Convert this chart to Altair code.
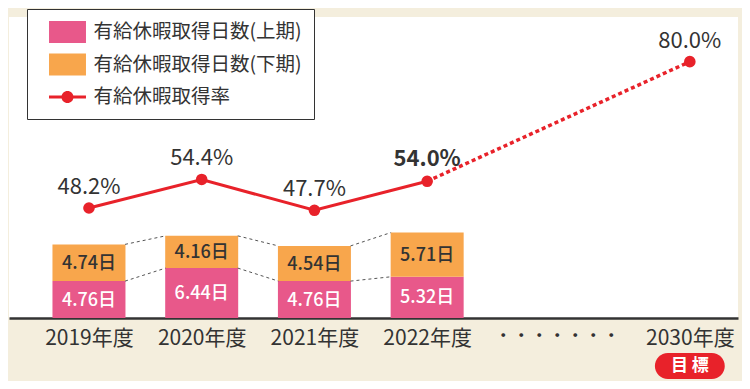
import altair as alt
import pandas as pd

# ---------------- data ----------------
years = ["2019年度", "2020年度", "2021年度", "2022年度", "2030年度"]
days_first = [4.76, 6.44, 4.76, 5.32]     # 上期
days_second = [4.74, 4.16, 4.54, 5.71]    # 下期
rate = [48.2, 54.4, 47.7, 54.0, 80.0]     # 取得率 (%)
series_names = ["有給休暇取得日数(上期)", "有給休暇取得日数(下期)", "有給休暇取得率"]
gap_label = "・・・・・・・"
target_label = "目 標"

# ---------------- layout / style ----------------
slot = [0, 1, 2, 3, 5.33]          # x slot of each year on the category axis
gap_slot = 4.15
X_DOMAIN = [-0.665, 5.713]
DAY_DOMAIN = [0, 38.84]
RATE_DOMAIN = [24.3, 89.7]
HALF = 0.32                          # half bar width in slot units

PINK = "#e8588a"
ORANGE = "#f8a64c"
RED = "#e8222a"
BEIGE = "#f4eedd"
TEXT = "#333333"
NUM_FONT = "Noto Sans CJK JP"
JP_FONT = "Noto Sans CJK JP"

# ---------------- tables ----------------
bar_rows = []
lbl_rows = []
for i in range(4):
    bar_rows.append({"pos": slot[i], "series": series_names[0], "value": days_first[i], "ord": 0})
    bar_rows.append({"pos": slot[i], "series": series_names[1], "value": days_second[i], "ord": 1})
    lbl_rows.append({"pos": slot[i], "y": days_first[i] / 2, "text": f"{days_first[i]:.2f}日", "kind": "first"})
    lbl_rows.append({"pos": slot[i], "y": days_first[i] + days_second[i] / 2,
                     "text": f"{days_second[i]:.2f}日", "kind": "second"})
bars_df = pd.DataFrame(bar_rows)
lbl_df = pd.DataFrame(lbl_rows)

conn_rows = []
tops_first = days_first
tops_total = [a + b for a, b in zip(days_first, days_second)]
for level in (tops_first, tops_total):
    for i in range(3):
        conn_rows.append({"x1": slot[i] + HALF, "x2": slot[i + 1] - HALF,
                          "y1": level[i], "y2": level[i + 1]})
conn_df = pd.DataFrame(conn_rows)

rate_df = pd.DataFrame({
    "pos": slot,
    "rate": rate,
    "series": series_names[2],
    "label": [f"{r:.1f}%" for r in rate],
    "bold": [False, False, False, True, False],
})
solid_df = rate_df.iloc[:4]
dotted_df = rate_df.iloc[3:]
badge_df = pd.DataFrame({"pos": [slot[4]], "text": [target_label]})

# ---------------- scales / axes ----------------
cases = list(zip(slot, years)) + [(gap_slot, gap_label)]
label_expr = "".join(f"datum.value == {p} ? '{n}' : " for p, n in cases) + "''"
x_axis = alt.Axis(values=[p for p, _ in cases], labelExpr=label_expr, domainColor=TEXT,
                  domainWidth=2.5, ticks=False, grid=False, labelFont=JP_FONT,
                  labelFontSize={"condition": {"test": f"datum.value == {gap_slot}", "value": 18},
                                 "value": 21},
                  labelColor=TEXT, labelPadding=9,
                  labelFlush=False, labelOverlap=False)
xs = alt.Scale(domain=X_DOMAIN, nice=False, zero=False)
ys_days = alt.Scale(domain=DAY_DOMAIN, nice=False, zero=False)
ys_rate = alt.Scale(domain=RATE_DOMAIN, nice=False, zero=False)

RECT_PATH = "M-1.68,-1H1.68V1H-1.68Z"
LINE_PATH = ("M-1.68,-0.13H1.68V0.13H-1.68Z"
             "M-0.55,0A0.55,0.55 0 1,1 0.55,0A0.55,0.55 0 1,1 -0.55,0Z")
legend = alt.Legend(
    orient="none", legendX=18, legendY=-8, direction="vertical",
    padding=12, strokeColor=TEXT, fillColor="white",
    labelFont=JP_FONT, labelFontSize=19.5, labelColor=TEXT, labelLimit=400,
    labelExpr="datum.label + '   '",
    symbolSize=484, rowPadding=10.5, symbolOffset=17.5, labelOffset=15,
    symbolType={"expr": f"datum.value === '{series_names[2]}' ? '{LINE_PATH}' : '{RECT_PATH}'"},
    symbolFillColor={"expr": "scale('color', datum.value)"},
    symbolStrokeWidth=0, symbolOpacity=1,
)
color = alt.Color("series:N", scale=alt.Scale(domain=series_names, range=[PINK, ORANGE, RED]),
                  legend=legend, title=None)

X = alt.X("pos:Q", scale=xs, axis=x_axis, title=None)

bars = alt.Chart(bars_df).mark_bar(size=73).encode(
    x=X,
    y=alt.Y("value:Q", stack="zero", scale=ys_days, axis=None),
    color=color,
    order=alt.Order("ord:Q"),
)

conn = alt.Chart(conn_df).mark_rule(color="#555555", strokeWidth=1, strokeDash=[3, 3]).encode(
    x=alt.X("x1:Q", scale=xs, axis=x_axis, title=None),
    x2="x2:Q",
    y=alt.Y("y1:Q", scale=ys_days, axis=None),
    y2="y2:Q",
)

lbl_first = alt.Chart(lbl_df).transform_filter("datum.kind == 'first'").mark_text(
    font=NUM_FONT, fontSize=18, fontWeight=500, color="white", baseline="middle", dy=1
).encode(x=X, y=alt.Y("y:Q", scale=ys_days, axis=None), text="text:N")

lbl_second = alt.Chart(lbl_df).transform_filter("datum.kind == 'second'").mark_text(
    font=NUM_FONT, fontSize=18, fontWeight=500, color=TEXT, baseline="middle", dy=1
).encode(x=X, y=alt.Y("y:Q", scale=ys_days, axis=None), text="text:N")

line_solid = alt.Chart(solid_df).mark_line(strokeWidth=3).encode(
    x=X, y=alt.Y("rate:Q", scale=ys_rate, axis=None), color=color)

line_dotted = alt.Chart(dotted_df).mark_line(strokeWidth=3.5, strokeDash=[4, 3]).encode(
    x=X, y=alt.Y("rate:Q", scale=ys_rate, axis=None), color=color)

points = alt.Chart(rate_df).mark_point(filled=True, size=135, opacity=1, shape="circle").encode(
    x=X, y=alt.Y("rate:Q", scale=ys_rate, axis=None), color=color)

pct_normal = alt.Chart(rate_df).transform_filter("!datum.bold").mark_text(
    font=NUM_FONT, fontSize=22, color=TEXT, baseline="middle", dy=-21
).encode(x=X, y=alt.Y("rate:Q", scale=ys_rate, axis=None), text="label:N")

pct_bold = alt.Chart(rate_df).transform_filter("datum.bold").mark_text(
    font=NUM_FONT, fontSize=22, fontWeight="bold", color=TEXT, baseline="middle", dy=-22
).encode(x=X, y=alt.Y("rate:Q", scale=ys_rate, axis=None), text="label:N")

badge = alt.Chart(badge_df).transform_calculate(
    xa="datum.pos - 0.31", xb="datum.pos + 0.31"
).mark_rect(color=RED, cornerRadius=13).encode(
    x=alt.X("xa:Q", scale=xs, axis=x_axis, title=None), x2="xb:Q",
    y=alt.value(336), y2=alt.value(362),
)
badge_text = alt.Chart(badge_df).mark_text(
    font=JP_FONT, fontSize=17, fontWeight="bold", color="white", baseline="middle"
).encode(x=X, y=alt.value(349), text="text:N")

chart = alt.layer(
    bars, conn, lbl_first, lbl_second, line_solid, line_dotted, points,
    pct_normal, pct_bold, badge, badge_text
).resolve_scale(y="independent").properties(
    width=729, height=301,
    autosize=alt.AutoSizeParams(type="none"),
    padding={"left": 1, "top": 9, "right": 4, "bottom": 63},
    background=BEIGE,
).configure_view(fill="white", strokeWidth=0)

chart.save("out.html", embed_options={"renderer": "svg", "actions": False})
